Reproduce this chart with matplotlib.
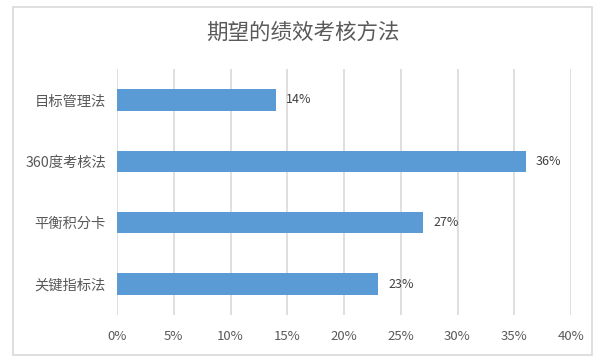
import matplotlib.pyplot as plt
from matplotlib.patches import Rectangle
from matplotlib.ticker import FuncFormatter

plt.rcParams['font.family'] = ['Noto Sans CJK SC', 'DejaVu Sans']

# 数据（从上到下）
methods = ['目标管理法', '360度考核法', '平衡积分卡', '关键指标法']
shares = [0.14, 0.36, 0.27, 0.23]
title = '期望的绩效考核方法'

fig = plt.figure(figsize=(5.97, 3.6), dpi=100)
fig.patch.set_facecolor('white')

# 外框
fig.patches.append(Rectangle((13 / 597, 1 - 355 / 360), 579 / 597, 348 / 360,
                             transform=fig.transFigure, fill=False,
                             edgecolor='#d9d9d9', linewidth=1.2))

ax = fig.add_axes([117 / 597, 1 - 314.7 / 360, 454 / 597, 245.4 / 360])
y = list(range(len(methods)))
ax.barh(y, shares, height=0.35, color='#5b9bd5', zorder=3)
ax.set_ylim(len(methods) - 0.5, -0.5)
ax.set_xlim(0, 0.40)
ax.set_xticks([i * 0.05 for i in range(9)])
ax.xaxis.set_major_formatter(FuncFormatter(lambda v, p: f'{v * 100:.0f}%'))
ax.set_yticks(y)
ax.set_yticklabels(methods)

ax.grid(axis='x', color='#d9d9d9', linewidth=1.2, zorder=0)
for s in ax.spines.values():
    s.set_visible(False)
ax.tick_params(axis='both', length=0, colors='#595959', labelsize=10.3)
ax.tick_params(axis='x', pad=11, labelsize=9.5)
ax.tick_params(axis='y', pad=8)

for yi, v in zip(y, shares):
    ax.text(v + 0.009, yi, f'{v * 100:.0f}%', va='center', ha='left',
            fontsize=9, color='#404040')

fig.text(303 / 597, 1 - 33 / 360, title, ha='center', va='center',
         fontsize=15.5, color='#595959', fontweight='light')

fig.savefig('out.png', dpi=100)
